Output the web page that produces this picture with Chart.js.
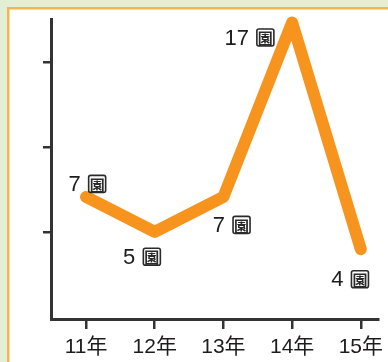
<!DOCTYPE html>
<html>
<head>
<meta charset="utf-8">
<script src="https://cdn.jsdelivr.net/npm/chart.js@4"></script>
<style>
  html, body { margin: 0; padding: 0; background: #ffffff; }
  #wrap { width: 388px; height: 362px; }
</style>
</head>
<body>
<div id="wrap"><canvas id="lineChart" width="388" height="362"></canvas></div>
<script>
// data
const categories = ["11年", "12年", "13年", "14年", "15年"];
const values = [7, 5, 7, 17, 4];
const yTickValues = [5, 9.85, 14.7]; // unlabelled tick marks, where they sit in the picture
const unitChar = "園";

const FONT = "'Liberation Sans', Arial, 'Noto Sans CJK JP', sans-serif";
const INK = "#1e1b1c";

// page frame: green margin, orange rule, white panel
const framePlugin = {
  id: "frame",
  beforeDraw(chart) {
    const ctx = chart.ctx;
    ctx.save();
    ctx.fillStyle = "#e3efd5";
    ctx.fillRect(0, 0, chart.width, chart.height);
    ctx.fillStyle = "#f6b44e";
    ctx.fillRect(7, 7, chart.width - 7, chart.height - 7);
    ctx.fillStyle = "#ffffff";
    ctx.fillRect(9.5, 9.5, chart.width - 9.5, chart.height - 9.5);
    ctx.restore();
  },
};

// value labels: number + boxed unit character
const labelOffsets = [[1, -13], [-13, 25], [8, 28], [-43, 15], [-11, 30]];
const valueLabelPlugin = {
  id: "valueLabels",
  afterDatasetsDraw(chart) {
    const ctx = chart.ctx;
    const pts = chart.getDatasetMeta(0).data;
    ctx.save();
    pts.forEach((p, i) => {
      const txt = String(values[i]);
      ctx.font = "22px " + FONT;
      const w = ctx.measureText(txt).width;
      const box = 17, gap = 8;
      const total = w + gap + box;
      const cx = p.x + labelOffsets[i][0];
      const cy = p.y + labelOffsets[i][1];
      const x0 = cx - total / 2;
      ctx.fillStyle = INK;
      ctx.textAlign = "left";
      ctx.textBaseline = "middle";
      ctx.fillText(txt, x0, cy + 1);
      const bx = x0 + w + gap, by = cy - box / 2;
      ctx.strokeStyle = "#2a2a2a";
      ctx.lineWidth = 1.6;
      ctx.beginPath();
      ctx.roundRect(bx, by, box, box, 2);
      ctx.stroke();
      ctx.font = "bold 15px 'Noto Sans CJK JP', sans-serif";
      ctx.textAlign = "center";
      ctx.fillStyle = "#2a2a2a";
      ctx.fillText(unitChar, bx + box / 2, cy + 1);
    });
    ctx.restore();
  },
};

const ctx = document.getElementById("lineChart");
new Chart(ctx, {
  type: "line",
  data: {
    datasets: [
      {
        data: values.map((v, i) => ({ x: i, y: v })),
        borderColor: "#f7941d",
        borderWidth: 12,
        borderCapStyle: "round",
        borderJoinStyle: "round",
        pointRadius: 0,
        tension: 0,
        fill: false,
        clip: false,
      },
    ],
  },
  options: {
    responsive: false,
    animation: false,
    devicePixelRatio: 1,
    layout: { padding: { left: 43, right: 10, top: 19, bottom: -4 } },
    plugins: { legend: { display: false }, tooltip: { enabled: false } },
    scales: {
      x: {
        type: "linear",
        min: -0.51,
        max: 4.25,
        afterBuildTicks: (axis) => {
          axis.ticks = categories.map((c, i) => ({ value: i }));
        },
        afterFit: (axis) => {
          // let the last label hang past the axis end, like the original
          axis.paddingLeft = 0;
          axis.paddingRight = 0;
        },
        ticks: {
          callback: (v) => categories[v],
          color: INK,
          font: { family: FONT, size: 21, lineHeight: 1 },
          padding: 8,
          maxRotation: 0,
          autoSkip: false,
        },
        grid: {
          drawOnChartArea: false,
          drawTicks: true,
          tickLength: 10,
          color: "#333333",
          lineWidth: 2.5,
        },
        border: { display: true, color: "#333333", width: 3 },
      },
      y: {
        min: 0,
        max: 17.2,
        afterBuildTicks: (axis) => {
          axis.ticks = yTickValues.map((v) => ({ value: v }));
        },
        ticks: { display: false },
        grid: {
          drawOnChartArea: false,
          drawTicks: true,
          tickLength: 8,
          color: "#333333",
          lineWidth: 2.5,
        },
        border: { display: true, color: "#333333", width: 3 },
      },
    },
  },
  plugins: [framePlugin, valueLabelPlugin],
});
</script>
</body>
</html>
